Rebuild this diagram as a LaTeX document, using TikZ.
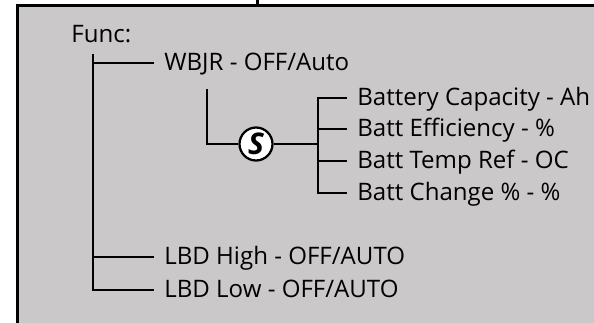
\documentclass[tikz,border=0pt]{standalone}
\usepackage{fontspec}
\setmainfont{Open Sans}
\definecolor{panelgray}{HTML}{CAC8C9}
\begin{document}
\begin{tikzpicture}[x=0.02cm, y=-0.02cm,
    item/.style={anchor=west, inner xsep=0.2cm, inner ysep=0pt, text height=1.55ex, text depth=0pt, font=\fontsize{13.7}{16}\selectfont},
    link/.style={line width=0.05cm},
    sw/.style={circle, draw, fill=white, line width=0.045cm, minimum size=0.66cm, inner sep=0pt, font=\fontsize{17}{17}\selectfont\bfseries\itshape}
]
    \useasboundingbox (0,0) rectangle (594,322);
    \clip (0,0) rectangle (594,322);

    % Panel
    \path[fill=panelgray, draw=black, line width=0.06cm] (17,5) rectangle (640,360);
    \draw[line width=0.06cm] (257,-5) -- (257,5);

    % Top level
    \node[anchor=base west, inner sep=0pt, font=\fontsize{13.7}{16}\selectfont] (func) at (71,42) {Func:};
    \node[item] (wbjr) at (154,63) {WBJR - OFF/Auto};
    \node[item] (high) at (154,257) {LBD High - OFF/AUTO};
    \node[item] (low) at (154,290) {LBD Low - OFF/AUTO};

    % Switch and battery settings
    \node[sw] (s) at (256,144) {S};
    \node[item] (cap) at (347,98) {Battery Capacity - Ah};
    \node[item] (eff) at (347,129) {Batt Efficiency - \%};
    \node[item] (tmp) at (347,161) {Batt Temp Ref - OC};
    \node[item] (chg) at (347,193) {Batt Change \% - \%};

    \coordinate (trunk) at (93,54);
    \coordinate (drop) at (207,89);
    \coordinate (hub) at (318,144);

    % Main tree
    \draw[link] (trunk) |- (low.west);
    \draw[link] (trunk |- wbjr.west) -- (wbjr.west);
    \draw[link] (trunk |- high.west) -- (high.west);

    % Sub tree
    \draw[link] (drop) |- (s.west);
    \draw[link] (s.east) -- (hub);
    \draw[link] (cap.west) -- (cap.west -| hub) -- (chg.west -| hub) -- (chg.west);
    \draw[link] (eff.west -| hub) -- (eff.west);
    \draw[link] (tmp.west -| hub) -- (tmp.west);
\end{tikzpicture}
\end{document}
